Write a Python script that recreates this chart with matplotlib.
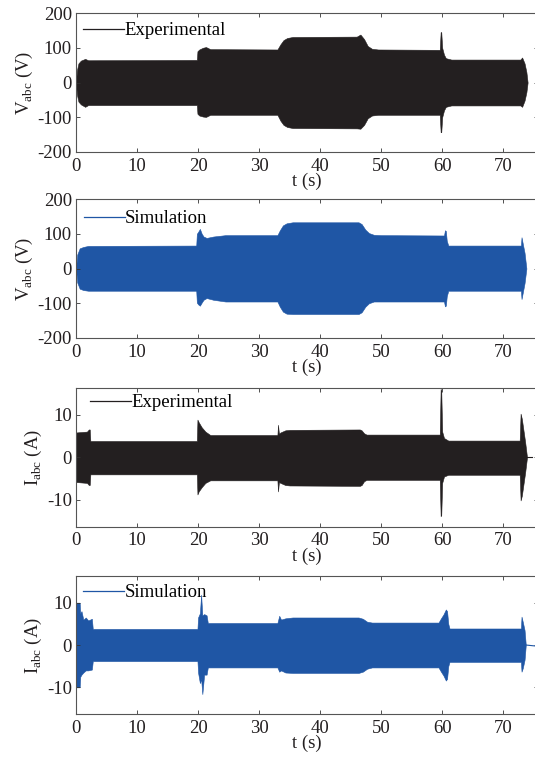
import numpy as np
import matplotlib
matplotlib.use("Agg")
import matplotlib.pyplot as plt
from matplotlib.lines import Line2D

plt.rcParams['font.family'] = ['Liberation Serif', 'DejaVu Serif']
plt.rcParams['mathtext.fontset'] = 'custom'
plt.rcParams['mathtext.rm'] = 'Liberation Serif'
plt.rcParams['axes.unicode_minus'] = False

BLACK = '#231f20'
BLUE = '#1f56a5'
FS = 13.5

# envelope breakpoints (time in s)
# panel 1: experimental voltage
t_v_exp = [0, 0.15, 0.4, 0.8, 1.5, 2.0, 19.8, 19.9, 20.2, 20.8, 21.3, 22.0, 33.0, 33.5, 34.0, 34.6, 35.5,
           46.0, 46.6, 47.2, 47.8, 48.5, 49.5, 59.6, 59.75, 59.85, 60.0, 60.3, 60.6, 61.5, 72.8, 73.1,
           73.5, 73.8, 74.0]
up_v_exp = [0, 35, 55, 63, 68, 64, 65, 90, 95, 100, 102, 96, 95, 110, 122, 128, 131,
            132, 138, 125, 105, 97, 95, 94, 145, 145, 100, 80, 70, 66, 66, 72,
            55, 30, 0]
lo_v_exp = [0, -35, -55, -63, -70, -65, -65, -90, -95, -98, -99, -93, -93, -110, -122, -128, -131,
            -132, -133, -122, -103, -95, -93, -93, -143, -143, -100, -80, -70, -66, -66, -70,
            -52, -28, 0]

# panel 2: simulated voltage
t_v_sim = [0, 0.2, 0.6, 1.2, 2.0, 19.7, 19.8, 20.0, 20.3, 20.6, 20.9, 21.4, 22.5, 24.5, 33.0, 33.4,
           33.9, 34.5, 35.5, 46.3, 46.8, 47.4, 48.0, 48.8, 50.0, 60.3, 60.45, 60.6, 60.75, 61.0,
           72.9, 73.0, 73.2, 73.5, 73.8]
up_v_sim = [0, 40, 58, 62, 65, 66, 100, 105, 114, 100, 92, 88, 92, 96, 96, 110,
            124, 130, 133, 133, 128, 112, 102, 97, 96, 95, 110, 108, 80, 66,
            66, 90, 72, 45, 0]
lo_v_sim = [0, -40, -58, -62, -64, -64, -98, -103, -107, -98, -90, -85, -90, -95, -95, -110,
            -124, -130, -131, -131, -126, -110, -100, -95, -95, -95, -109, -107, -80, -64,
            -64, -88, -70, -42, 0]

# panel 3: experimental current
t_i_exp = [0, 0.05, 1.8, 2.1, 2.25, 2.35, 19.8, 19.9, 20.1, 20.6, 21.2, 22.0, 33.0, 33.1, 33.25,
           33.5, 34.3, 35.0, 46.5, 46.8, 47.2, 47.6, 59.6, 59.75, 59.85, 60.0, 60.3, 61.0, 72.7,
           72.85, 73.05, 73.3, 73.6, 73.9]
up_i_exp = [0, 5.8, 6.0, 6.5, 6.5, 3.8, 3.8, 8.8, 8.2, 7.0, 6.0, 5.2, 5.2, 7.6, 5.5,
            5.8, 6.3, 6.4, 6.5, 6.3, 5.6, 5.3, 5.3, 16.0, 15.5, 6.0, 4.5, 3.9, 3.9,
            10.2, 9.0, 6.5, 3.5, 0]
lo_i_exp = [0, -5.8, -6.0, -6.5, -6.5, -4.0, -4.0, -8.7, -8.0, -7.0, -6.0, -5.4, -5.4, -8.0, -5.8,
            -6.0, -6.5, -6.6, -6.7, -6.5, -5.6, -5.3, -5.3, -13.8, -13.5, -6.0, -4.5, -4.1, -4.1,
            -10.1, -9.0, -6.5, -3.5, 0]
tail_t_i_exp = [73.9, 74.7]
tail_v_i_exp = [0, 0]

# panel 4: simulated current
t_i_sim = [0, 0.05, 0.6, 0.7, 0.9, 1.2, 1.6, 2.0, 2.6, 2.75, 19.9, 20.0, 20.3, 20.5, 20.7, 21.0,
           21.4, 21.6, 33.0, 33.3, 33.6, 34.3, 35.5, 46.3, 47.0, 47.7, 48.5, 59.4, 59.8, 60.2,
           60.6, 60.8, 61.0, 61.2, 72.9, 73.0, 73.2, 73.5, 73.7]
up_i_sim = [5, 10, 10, 7.5, 8.0, 6.0, 6.5, 5.8, 6.2, 3.8, 3.8, 6.5, 7.5, 11.9, 7.0, 7.3,
            7.0, 5.2, 5.2, 6.9, 6.0, 6.3, 6.5, 6.5, 6.2, 5.5, 5.3, 5.3, 6.3, 7.2,
            8.4, 8.0, 5.0, 3.9, 3.9, 6.7, 5.5, 3.5, 0]
lo_i_sim = [-5, -10, -10, -7.5, -7.0, -6.5, -6.0, -6.0, -5.8, -3.8, -3.8, -6.5, -9.0, -8.0, -11.6, -7.0,
            -7.0, -5.3, -5.3, -6.3, -6.0, -6.5, -6.6, -6.6, -6.3, -5.6, -5.3, -5.3, -6.3, -7.2,
            -8.4, -8.0, -5.0, -4.0, -4.0, -6.3, -5.5, -3.5, 0]
tail_t_i_sim = [73.7, 75.7]
tail_v_i_sim = [0, -0.3]

x_ticks = [0, 10, 20, 30, 40, 50, 60, 70]
v_ticks = [-200, -100, 0, 100, 200]
i_ticks = [-10, 0, 10]

fig = plt.figure(figsize=(5.35, 7.57), dpi=100)
H = 757.0
W = 535.0

# (top px, bottom px, ..., legend x px, legend y px below top)
panels = [
    (13, 152, t_v_exp, up_v_exp, lo_v_exp, None, None, BLACK, 'Experimental', r'V$_{\mathrm{abc}}$ (V)',
     (-200, 200), v_ticks, 83, 19),
    (199, 338, t_v_sim, up_v_sim, lo_v_sim, None, None, BLUE, 'Simulation', r'V$_{\mathrm{abc}}$ (V)',
     (-200, 200), v_ticks, 84, 21),
    (388, 526.5, t_i_exp, up_i_exp, lo_i_exp, tail_t_i_exp, tail_v_i_exp, BLACK, 'Experimental',
     r'I$_{\mathrm{abc}}$ (A)', (-16.2, 16.2), i_ticks, 90, 16),
    (576, 714, t_i_sim, up_i_sim, lo_i_sim, tail_t_i_sim, tail_v_i_sim, BLUE, 'Simulation',
     r'I$_{\mathrm{abc}}$ (A)', (-16.3, 16.3), i_ticks, 83, 18),
]

left_px = 76
right_px = 538
for top, bot, t, up, lo, tt, tv, col, lab, ylab, ylim, yt, lx, ly in panels:
    ax = fig.add_axes([left_px / W, (H - bot) / H, (right_px - left_px) / W, (bot - top) / H])
    ax.fill_between(t, lo, up, color=col, linewidth=0.4, edgecolor=col)
    if tt is not None:
        ax.plot(tt, tv, color=col, linewidth=0.8)
    ax.set_xlim(0, 75.7)
    ax.set_ylim(*ylim)
    ax.set_xticks(x_ticks)
    ax.set_yticks(yt)
    ax.tick_params(direction='in', top=True, right=True, length=3, width=0.6,
                   labelsize=FS, colors='#333333', labelcolor=BLACK)
    ax.tick_params(axis='x', pad=4)
    ax.tick_params(axis='y', pad=3)
    for s in ax.spines.values():
        s.set_color('#555555')
        s.set_linewidth(0.8)
    ax.set_xlabel('t (s)', fontsize=FS, color=BLACK, labelpad=-1)
    ax.set_ylabel(ylab, fontsize=FS, color=BLACK, labelpad=2)
    h = Line2D([], [], color=col, linewidth=0.9)
    ax.legend([h], [lab], loc='upper left', frameon=False, fontsize=FS,
              bbox_to_anchor=((lx - left_px) / (right_px - left_px), 1 - (ly - 10) / (bot - top)),
              borderaxespad=0, borderpad=0, handlelength=2.2, handletextpad=0.0)

fig.savefig('out.png', dpi=100)
